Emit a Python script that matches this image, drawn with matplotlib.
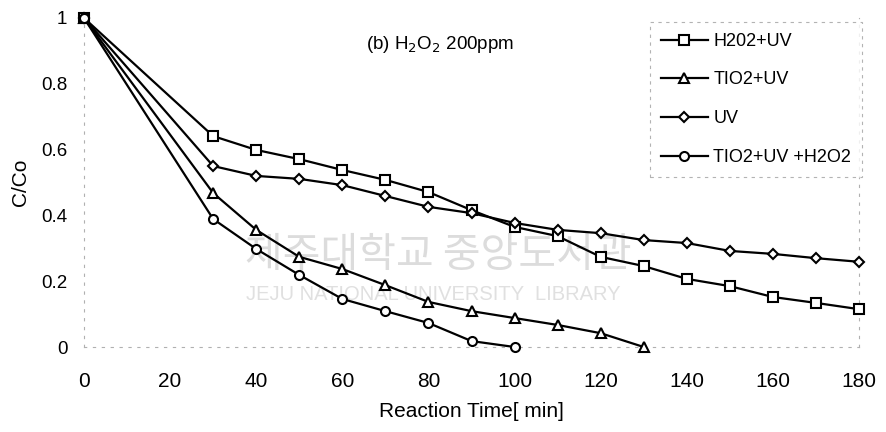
import matplotlib
matplotlib.use('Agg')
import matplotlib.pyplot as plt

plt.rcParams['font.family'] = ['Liberation Sans', 'Noto Sans CJK KR', 'DejaVu Sans']

# 반응시간 (min)
time = [0, 30, 40, 50, 60, 70, 80, 90, 100, 110, 120, 130, 140, 150, 160, 170, 180]
time_tio2_uv = time[:12]
time_tio2_uv_h2o2 = time[:9]

# C/Co 값
h2o2_uv = [1, 0.641, 0.599, 0.571, 0.538, 0.508, 0.471, 0.416, 0.365, 0.337,
           0.274, 0.246, 0.207, 0.185, 0.152, 0.134, 0.115]
tio2_uv = [1, 0.468, 0.356, 0.274, 0.237, 0.188, 0.137, 0.109, 0.088, 0.067,
           0.042, 0.0]
uv = [1, 0.550, 0.520, 0.511, 0.492, 0.459, 0.426, 0.407, 0.377, 0.356,
      0.346, 0.325, 0.316, 0.292, 0.283, 0.270, 0.259]
tio2_uv_h2o2 = [1, 0.389, 0.298, 0.219, 0.146, 0.109, 0.073, 0.018, 0.0]

labels = ['H202+UV', 'TIO2+UV', 'UV', 'TIO2+UV +H2O2']
xticks = [0, 20, 40, 60, 80, 100, 120, 140, 160, 180]
yticks = [0, 0.2, 0.4, 0.6, 0.8, 1]
ytick_labels = ['0', '0.2', '0.4', '0.6', '0.8', '1']

fig = plt.figure(figsize=(8.86, 4.32), dpi=100)
ax = fig.add_axes([84 / 886, 85 / 432, 775 / 886, 329 / 432])

# 워터마크 (선 아래에 깔리도록 axes 안에 둠)
ax.text(245 / 886, 1 - 255 / 432, '제주대학교 중앙도서관', fontsize=29.5,
        color='#dcdcdc', family=['Noto Sans CJK KR'], va='center', ha='left',
        transform=fig.transFigure, zorder=1)
ax.text(246 / 886, 1 - 295 / 432, 'JEJU NATIONAL UNIVERSITY  LIBRARY', fontsize=14.5,
        color='#e0e0e0', va='center', ha='left', transform=fig.transFigure, zorder=1)

style = dict(color='black', lw=1.6, markerfacecolor='white', markeredgecolor='black',
             markeredgewidth=1.5, clip_on=False, zorder=3)
ax.plot(time, h2o2_uv, marker='s', markersize=7, label=labels[0], **style)
ax.plot(time_tio2_uv, tio2_uv, marker='^', markersize=7, label=labels[1], **style)
ax.plot(time, uv, marker='D', markersize=5.5, label=labels[2], **style)
ax.plot(time_tio2_uv_h2o2, tio2_uv_h2o2, marker='o', markersize=6.5, label=labels[3], **style)

ax.set_xlim(0, 180)
ax.set_ylim(0, 1)
ax.set_xticks(xticks)
ax.set_yticks(yticks)
ax.set_yticklabels(ytick_labels)
ax.tick_params(axis='x', length=0, labelsize=15, pad=18)
ax.tick_params(axis='y', length=0, labelsize=13.5, pad=12)

ax.spines['top'].set_visible(False)
for s in ['left', 'bottom', 'right']:
    ax.spines[s].set_linestyle((0, (2, 6)))
    ax.spines[s].set_color('#b0b0b0')
    ax.spines[s].set_linewidth(0.8)

ax.set_xlabel('Reaction Time[ min]', fontsize=15, labelpad=8)
ax.set_ylabel('C/Co', fontsize=15, labelpad=8)

ax.text(0.459, 0.918, '(b) H$_2$O$_2$ 200ppm', transform=ax.transAxes,
        fontsize=13.5, ha='center', va='center')

leg = ax.legend(loc='upper left', bbox_to_anchor=(650 / 886, 1 - 22 / 432),
                bbox_transform=fig.transFigure, fontsize=13, frameon=True,
                fancybox=False, handlelength=2.6, handletextpad=0.3,
                labelspacing=1.2, borderpad=0.6, borderaxespad=0)
frame = leg.get_frame()
frame.set_edgecolor('#a0a0a0')
frame.set_linestyle((0, (3, 4)))
frame.set_linewidth(0.8)

fig.savefig('out.png', dpi=100)
